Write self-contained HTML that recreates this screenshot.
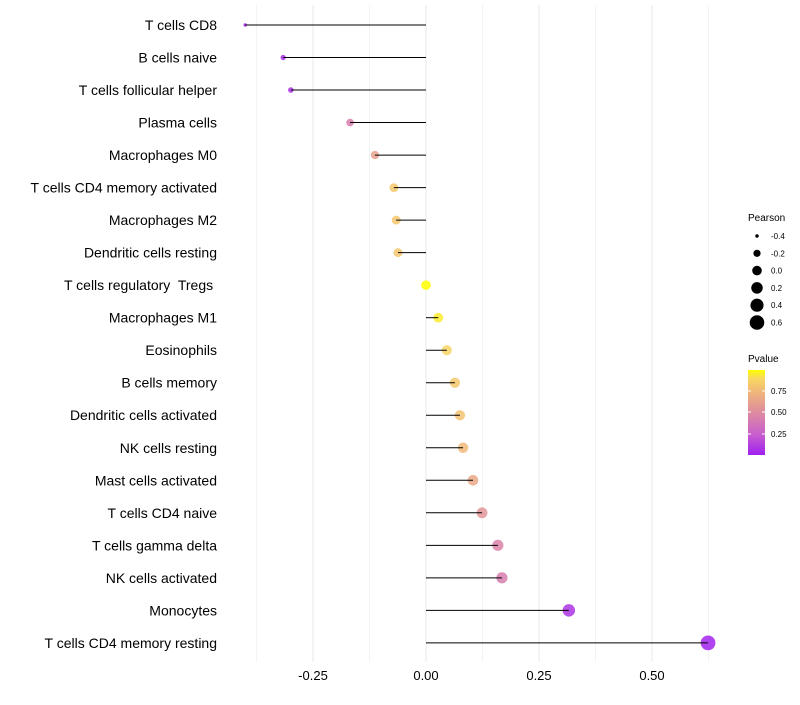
<!DOCTYPE html>
<html><head><meta charset="utf-8"><style>
body{margin:0;background:#fff;font-family:"Liberation Sans",sans-serif;}
text{white-space:pre;}
</style></head><body>
<svg id="chart" width="800" height="700" xmlns="http://www.w3.org/2000/svg" font-family="Liberation Sans, sans-serif">
<defs>
<linearGradient id="pg" x1="0" y1="1" x2="0" y2="0">
<stop offset="0" stop-color="#a020f0"/><stop offset="0.25" stop-color="#c860cc"/><stop offset="0.5" stop-color="#de8ca0"/><stop offset="0.75" stop-color="#f0b878"/><stop offset="0.9" stop-color="#f8d860"/><stop offset="1" stop-color="#ffff00"/>
</linearGradient>
</defs>
<g id="grid"></g>
<g id="points"></g>
<g id="marks"></g>
<g id="ylabels"></g>
<g id="xlabels"></g>
<g id="sizeleg">
<text x="748" y="221" font-size="10" fill="#000">Pearson</text>
</g>
<g>
<text x="748" y="362" font-size="10" fill="#000">Pvalue</text>
<rect x="748" y="370" width="17" height="85" fill="url(#pg)"/>
<line x1="748" y1="434" x2="751" y2="434" stroke="#fff"/><line x1="762" y1="434" x2="765" y2="434" stroke="#fff"/>
<line x1="748" y1="412" x2="751" y2="412" stroke="#fff"/><line x1="762" y1="412" x2="765" y2="412" stroke="#fff"/>
<line x1="748" y1="391" x2="751" y2="391" stroke="#fff"/><line x1="762" y1="391" x2="765" y2="391" stroke="#fff"/>
<text x="771" y="437" font-size="8" fill="#000">0.25</text>
<text x="771" y="415" font-size="8" fill="#000">0.50</text>
<text x="771" y="394" font-size="8" fill="#000">0.75</text>
</g>
</svg>
<script>
const categories=["T cells CD8","B cells naive","T cells follicular helper","Plasma cells","Macrophages M0","T cells CD4 memory activated","Macrophages M2","Dendritic cells resting","T cells regulatory  Tregs ","Macrophages M1","Eosinophils","B cells memory","Dendritic cells activated","NK cells resting","Mast cells activated","T cells CD4 naive","T cells gamma delta","NK cells activated","Monocytes","T cells CD4 memory resting"];
const pearson=[-0.400,-0.316,-0.299,-0.168,-0.113,-0.071,-0.066,-0.062,0.0,0.027,0.046,0.064,0.075,0.082,0.104,0.124,0.159,0.168,0.316,0.624];
const pvalues=[0.02,0.05,0.08,0.42,0.62,0.82,0.82,0.82,1.0,0.95,0.88,0.82,0.8,0.75,0.66,0.55,0.45,0.42,0.08,0.01];
const xTicks=[-0.25,0,0.25,0.5];
const xTickLabels=["-0.25","0.00","0.25","0.50"];
const legendVals=[-0.4,-0.2,0.0,0.2,0.4,0.6];
const NS="http://www.w3.org/2000/svg";
const x=v=>426+v*452;
const y=i=>25+i*32.52;
const r=v=>Math.sqrt(Math.max(0.5,3+(v+0.4)*50));
const stops=[[0,[160,32,240]],[0.25,[200,96,204]],[0.5,[222,140,160]],[0.75,[240,184,120]],[0.9,[248,216,96]],[1,[255,255,0]]];
function col(p){for(let k=1;k<stops.length;k++){if(p<=stops[k][0]){const a=stops[k-1],b=stops[k];const t=(p-a[0])/(b[0]-a[0]);return "rgb("+a[1].map((c,j)=>Math.round(c+(b[1][j]-c)*t)).join(",")+")";}}return "rgb(255,255,0)";}
function mk(t,at,parent){const e=document.createElementNS(NS,t);for(const k in at)e.setAttribute(k,at[k]);parent.appendChild(e);return e;}
const grid=document.getElementById('grid');
for(let g=-0.375;g<=0.626;g+=0.125){const l=mk('line',{x1:x(g),x2:x(g),y1:5,y2:662,stroke:'#ebebeb','stroke-width':Math.abs((g*4)%1)<1e-6?1.1:0.6},grid);

}
const marks=document.getElementById('marks'),pts=document.getElementById('points'),yl=document.getElementById('ylabels'),xl=document.getElementById('xlabels');
categories.forEach((c,i)=>{
const pt=mk('circle',{cx:x(pearson[i]),cy:y(i),r:r(pearson[i]),fill:col(pvalues[i]),'fill-opacity':0.85},pts);


const ln=mk('line',{x1:x(0),x2:x(pearson[i]),y1:y(i),y2:y(i),stroke:'#000','stroke-width':1},marks);


const t=mk('text',{x:217,y:y(i)+5,'text-anchor':'end','font-size':14,fill:'#000'},yl);t.textContent=c;


});
xTicks.forEach((v,i)=>{const t=mk('text',{x:x(v),y:680,'text-anchor':'middle','font-size':13,fill:'#000'},xl);t.textContent=xTickLabels[i];

});
const sl=document.getElementById('sizeleg');
legendVals.forEach((v,i)=>{const cy=236+i*17.3;
const c=mk('circle',{cx:757,cy:cy,r:r(v),fill:'#000'},sl);


const t=mk('text',{x:771,y:cy+3,'font-size':8,fill:'#000'},sl);t.textContent=v.toFixed(1);

});
</script>
</body></html>
